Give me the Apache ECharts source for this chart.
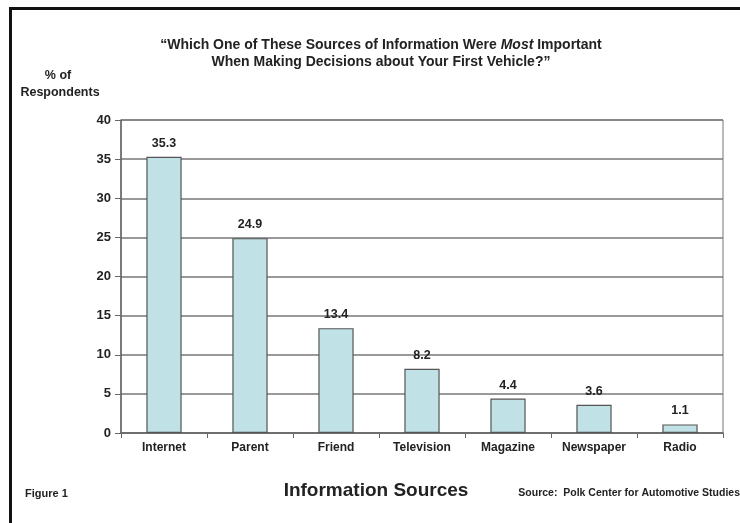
<!DOCTYPE html>
<html><head><meta charset="utf-8">
<script src="https://cdn.jsdelivr.net/npm/echarts@6/dist/echarts.min.js"></script>
<style>html,body{margin:0;padding:0;background:#fff}#c{width:740px;height:523px}</style>
</head><body><div id="c"></div>
<script>
const categories = ["Internet","Parent","Friend","Television","Magazine","Newspaper","Radio"];
const values = [35.3, 24.9, 13.4, 8.2, 4.4, 3.6, 1.1];
const yTicks = [0,5,10,15,20,25,30,35,40];
const titleLines = ["\u201cWhich One of These Sources of Information Were {i|Most} Important", "When Making Decisions about Your First Vehicle?\u201d"];

const sans = '"Liberation Sans",Arial,sans-serif';
const chart = echarts.init(document.getElementById('c'));
chart.setOption({
  backgroundColor: '#fff',
  animation: false,
  title: {
    text: titleLines.join('\n'),
    left: 376, top: 32, textAlign: 'center',
    textStyle: {
      fontFamily: sans, fontSize: 14, fontWeight: 'bold', color: '#222', lineHeight: 17,
      rich: { i: { fontFamily: sans, fontSize: 14, fontWeight: 'bold', fontStyle: 'italic', color: '#222' } }
    }
  },
  grid: { left: 121, right: 17, top: 120, bottom: 90, show: true, borderColor: '#777', borderWidth: 1, backgroundColor: 'transparent' },
  xAxis: {
    type: 'category', data: categories,
    axisLine: { lineStyle: { color: '#666', width: 1.5 } },
    axisTick: { show: true, length: 5, inside: false, lineStyle: { color: '#666' } },
    axisLabel: { interval: 0, fontFamily: sans, fontSize: 12, fontWeight: 'bold', color: '#222', margin: 9 }
  },
  yAxis: {
    type: 'value', min: yTicks[0], max: yTicks[yTicks.length-1], interval: 5,
    axisLine: { show: true, lineStyle: { color: '#666', width: 1.5 } },
    axisTick: { show: true, length: 6, lineStyle: { color: '#666' } },
    axisLabel: { fontFamily: sans, fontSize: 13, fontWeight: 'bold', color: '#222', margin: 10 },
    splitLine: { show: true, lineStyle: { color: '#777', width: 1.5 } }
  },
  series: [{
    type: 'bar', data: values, barWidth: '41%',
    itemStyle: { color: '#c0e2e6', borderColor: '#555', borderWidth: 1.2 },
    label: { show: true, position: 'top', distance: 7, fontFamily: sans, fontSize: 12.5, fontWeight: 'bold', color: '#222',
      formatter: p => p.value.toFixed(1) }
  }],
  graphic: [
    { type: 'rect', shape: { x: 9, y: 7, width: 3, height: 516 }, style: { fill: '#111' } },
    { type: 'rect', shape: { x: 9, y: 7, width: 731, height: 3 }, style: { fill: '#111' } },
    { type: 'text', x: 58, y: 69, style: { text: '% of', fontFamily: sans, fontSize: 12.5, fontWeight: 'bold', fill: '#222', align: 'center' } },
    { type: 'text', x: 60, y: 86, style: { text: 'Respondents', fontFamily: sans, fontSize: 12.5, fontWeight: 'bold', fill: '#222', align: 'center' } },
    { type: 'text', x: 25, y: 488, style: { text: 'Figure 1', fontFamily: sans, fontSize: 11, fontWeight: 'bold', fill: '#222' } },
    { type: 'text', x: 376, y: 481, style: { text: 'Information Sources', fontFamily: sans, fontSize: 19, fontWeight: 'bold', fill: '#222', align: 'center' } },
    { type: 'text', x: 740, y: 488, style: { text: 'Source:  Polk Center for Automotive Studies', fontFamily: sans, fontSize: 10.5, fontWeight: 'bold', fill: '#222', align: 'right' } }
  ]
});
</script></body></html>
